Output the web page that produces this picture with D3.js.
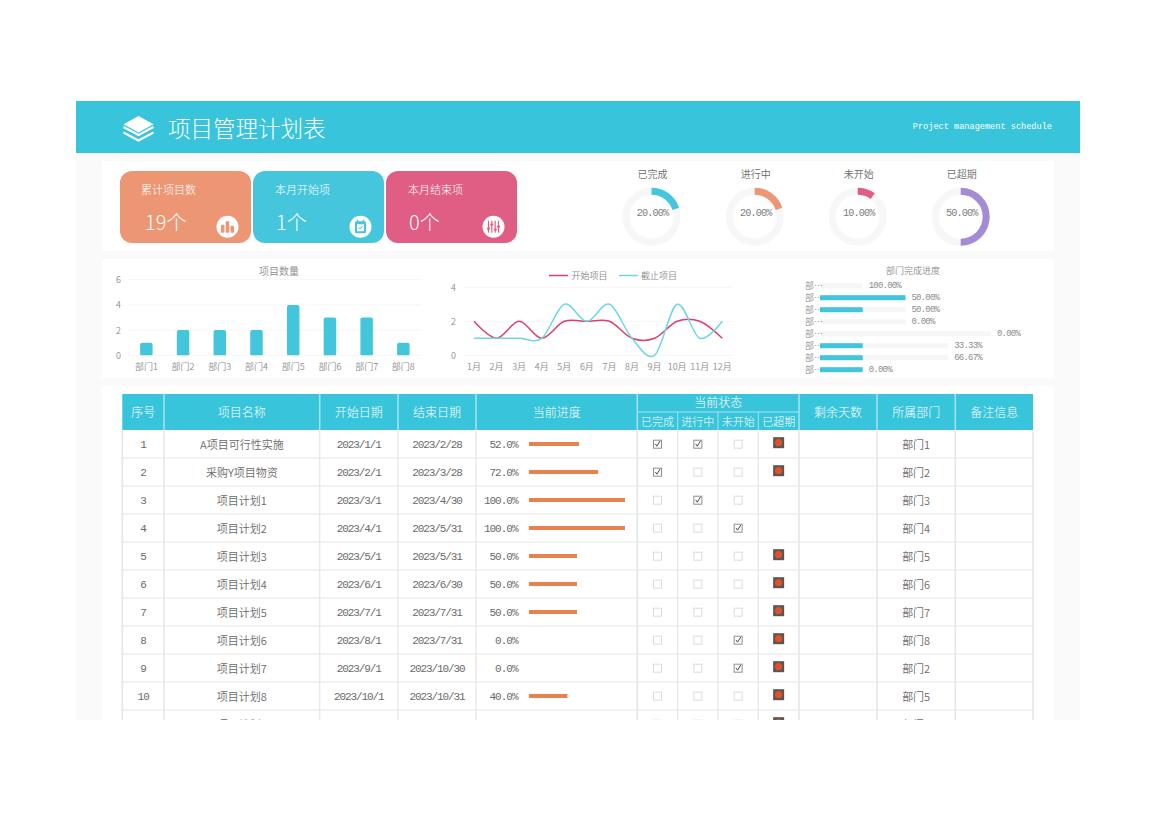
<!DOCTYPE html>
<html><head><meta charset="utf-8">
<script src="https://cdn.jsdelivr.net/npm/d3@7"></script>
<style>
html,body{margin:0;padding:0;background:#fff}
svg{display:block}
</style></head><body><svg id="c" width="1170" height="827"></svg>
<script>
const chartTitle="项目管理计划表", chartSubtitle="Project management schedule";
const cardTitles=["累计项目数","本月开始项","本月结束项"];
const cardValues=["19个","1个","0个"];
const cardColors=["#ec9673","#45c6dd","#e05e83"];
const donutNames=["已完成","进行中","未开始","已超期"];
const donutValues=[0.2,0.2,0.1,0.5];
const donutColors=["#45c6dd","#ec9673","#e05e83","#a48bd6"];
const departments=["部门1","部门2","部门3","部门4","部门5","部门6","部门7","部门8"];
const deptCounts=[1,2,2,2,4,3,3,1];
const deptDone=[0,2,1,0,0,1,1,1];
const deptLabels=["100.00%","50.00%","50.00%","0.00%","0.00%","33.33%","66.67%","0.00%"];
const months=["1月","2月","3月","4月","5月","6月","7月","8月","9月","10月","11月","12月"];
const startSeries=[2,1,2,1,2,2,2,1,1,2,2,1];
const endSeries=[1,1,1,1,3,2,3,1,0,3,1,2];
const headers=["序号","项目名称","开始日期","结束日期","当前进度"];
const headers2=["剩余天数","所属部门","备注信息"];
const statusHeaders=["已完成","进行中","未开始","已超期"];
const ids=[1,2,3,4,5,6,7,8,9,10,11];
const names=["A项目可行性实施","采购Y项目物资","项目计划1","项目计划2","项目计划3","项目计划4","项目计划5","项目计划6","项目计划7","项目计划8","项目计划9"];
const starts=["2023/1/1","2023/2/1","2023/3/1","2023/4/1","2023/5/1","2023/6/1","2023/7/1","2023/8/1","2023/9/1","2023/10/1","2023/11/1"];
const ends=["2023/2/28","2023/3/28","2023/4/30","2023/5/31","2023/5/31","2023/6/30","2023/7/31","2023/7/31","2023/10/30","2023/10/31","2023/11/30"];
const progress=[0.52,0.72,1,1,0.5,0.5,0.5,0,0,0.4,0.5];
const doneFlags=[1,1,0,0,0,0,0,0,0,0,0];
const doingFlags=[1,0,1,0,0,0,0,0,0,0,0];
const todoFlags=[0,0,0,1,0,0,0,1,1,0,0];
const lateFlags=[1,1,0,0,1,1,1,1,1,1,1];
const rowDepts=["部门1","部门2","部门3","部门4","部门5","部门6","部门7","部门8","部门2","部门5","部门3"];

const svg=d3.select("#c");
const TEAL="#38c4da",TXT="#6a6a6a",AXT="#8c8c8c",GRID="#f5f5f5";
const MONO='"Liberation Mono","Noto Sans CJK SC",monospace', SANS='"Noto Sans CJK SC","Noto Sans",sans-serif';
svg.append("defs").append("clipPath").attr("id","pageClip").append("rect").attr("x",76).attr("y",101).attr("width",1004).attr("height",619);
const root=svg.append("g").attr("clip-path","url(#pageClip)");
function T(g,x,y,s,o={}){
  const off=o.family===MONO?0.3:-0.8;
  return g.append("text").attr("x",x).attr("y",y+off).text(s)
   .attr("font-size",o.size||11).attr("fill",o.fill||TXT)
   .attr("text-anchor",o.anchor||"middle").attr("dominant-baseline","central")
   .attr("font-weight",o.weight||(o.family===MONO?400:350))
   .style("font-family",o.family||SANS).style("letter-spacing",o.ls||null);
}
function R(g,x,y,w,h,fill,r){return g.append("rect").attr("x",x).attr("y",y).attr("width",w).attr("height",h).attr("fill",fill).attr("rx",r||0).attr("ry",r||0);}
const num=(size,ls)=>({size,family:MONO,ls:ls+"px"});

// page
R(root,76,101,1004,619,"#fafafa");
R(root,76,101,1004,52,TEAL);
[[161,90],[259,119],[386,340]].forEach(p=>R(root,102,p[0],952,p[1],"#fff"));

// logo
const logo=root.append("g").attr("transform","translate(138.5,116)");
logo.append("path").attr("d","M0 0L15 8.2L0 16.4L-15 8.2Z").attr("fill","#fff");
[[13],[18.5]].forEach(d=>logo.append("path").attr("d",`M-15 ${d[0]-2}L0 ${d[0]+6}L15 ${d[0]-2}`).attr("fill","none").attr("stroke","#fff").attr("stroke-width",2));
T(root,168,127.5,chartTitle,{size:22.5,fill:"#fff",anchor:"start",weight:300});
T(root,1052,127,chartSubtitle,{size:8.6,fill:"#fff",anchor:"end",family:MONO});

// cards
const cardTitleDx=[21,22,22], cardValueDx=[25,23,23];
cardTitles.forEach((t,i)=>{
  const x=120+133*i, g=root.append("g");
  R(g,x,171,131,72,cardColors[i],12);
  T(g,x+cardTitleDx[i],189.8,t,{size:11,fill:"#fff",anchor:"start",weight:300});
  T(g,x+cardValueDx[i],222,cardValues[i],{size:20,fill:"#fff",anchor:"start",weight:300});
  const ic=g.append("g").attr("transform",`translate(${x+107.5},226.7)`);
  ic.append("circle").attr("r",11).attr("fill","#fff");
  const c=cardColors[i];
  if(i===0){ [[-6.5,-2,3.5,7],[-1.8,-5.5,3.5,10.5],[3,-1,3.5,6]].forEach(b=>R(ic,b[0],b[1],b[2],b[3]+1,c,.8)); }
  if(i===1){
    R(ic,-5.5,-5.5,11,12,c,1.5);
    R(ic,-3.5,-2.5,7,7,"#fff",.5);
    [-3,3].forEach(dx=>R(ic,dx-.7,-7,1.4,3,c));
    ic.append("path").attr("d","M-1.8 0.8L-.4 2.4L2 -.6").attr("fill","none").attr("stroke",c).attr("stroke-width",1);
  }
  if(i===2){
    [-5,-1.7,1.7,5].forEach((dx,k)=>{
      R(ic,dx-.6,-6,1.2,12,c);
      R(ic,dx-1.5,[1,-3,2,-1][k],3,1.8,c);
    });
  }
});

// donuts
const donutCx=[651.5,754.7,857.7,960.7], donutCy=216.7;
const arcBg=d3.arc().innerRadius(22).outerRadius(29).startAngle(0).endAngle(2*Math.PI);
const angle=d3.scaleLinear().domain([0,1]).range([0,2*Math.PI]);
donutNames.forEach((n,i)=>{
  const g=root.append("g").attr("transform",`translate(${donutCx[i]},${donutCy})`);
  g.append("path").attr("d",arcBg()).attr("fill","#f7f7f7");
  g.append("path").attr("d",d3.arc().innerRadius(22).outerRadius(29).startAngle(0).endAngle(angle(donutValues[i]))()).attr("fill",donutColors[i]);
  T(g,1,-42,n,{size:10});
  T(g,1,-3.4,d3.format(".2%")(donutValues[i]),{...num(10.2,-0.9),fill:"#7c7c7c"});
});

// bar chart
const bx=d3.scaleBand().domain(departments).range([128,421.7]).paddingInner(0.66).paddingOuter(0.33);
const by=d3.scaleLinear().domain([0,6]).range([355.3,279.7]);
const barG=root.append("g");
T(barG,279,271,"项目数量",{size:10,fill:AXT});
by.ticks(3).forEach(v=>{
  barG.append("line").attr("x1",128).attr("x2",421.7).attr("y1",by(v)).attr("y2",by(v)).attr("stroke",GRID);
  T(barG,118.5,by(v)+.8,v,{size:9,fill:AXT});
});
const round=2;
barG.selectAll("path.bar").data(departments).join("path").attr("class","bar").attr("fill","#43c6dc")
 .attr("d",(d,i)=>{const x=bx(d),w=bx.bandwidth(),y=by(deptCounts[i]),b=by(0);
   return `M${x} ${b-1}V${y+round}Q${x} ${y} ${x+round} ${y}H${x+w-round}Q${x+w} ${y} ${x+w} ${y+round}V${b-1}Q${x+w} ${b} ${x+w-1} ${b}H${x+1}Q${x} ${b} ${x} ${b-1}Z`;});
departments.forEach(d=>T(barG,bx(d)+bx.bandwidth()/2,367.3,d,{size:9,fill:AXT}));

// line chart
const lx=d3.scalePoint().domain(months).range([474,722.3]);
const ly=d3.scaleLinear().domain([0,4]).range([355.3,287.3]);
const lineG=root.append("g");
ly.ticks(2).forEach(v=>{
  lineG.append("line").attr("x1",462.7).attr("x2",733).attr("y1",ly(v)).attr("y2",ly(v)).attr("stroke",GRID);
  T(lineG,453.5,ly(v)+.8,v,{size:9,fill:AXT});
});
months.forEach(m=>T(lineG,lx(m),367.3,m,{size:9,fill:AXT}));
const line=d3.line().x((d,i)=>lx(months[i])).y(d=>ly(d)).curve(d3.curveCardinal.tension(0));
lineG.append("path").attr("d",line(startSeries)).attr("fill","none").attr("stroke","#df3d6b").attr("stroke-width",1.5);
lineG.append("path").attr("d",line(endSeries)).attr("fill","none").attr("stroke","#6fd5e6").attr("stroke-width",1.5);
[["开始项目","#df3d6b",549,571.5],["截止项目","#6fd5e6",619,641]].forEach(l=>{
  lineG.append("line").attr("x1",l[2]).attr("x2",l[2]+19).attr("y1",275.5).attr("y2",275.5).attr("stroke",l[1]).attr("stroke-width",1.5);
  T(lineG,l[3],276.2,l[0],{size:9,fill:AXT,anchor:"start"});
});

// horizontal progress
const hx=d3.scaleLinear().domain([0,4]).range([820,991]);
const hy=d3.scaleBand().domain(departments).range([279.7,375.7]);
const hG=root.append("g");
T(hG,913,271,"部门完成进度",{size:9,fill:AXT});
departments.forEach((d,i)=>{
  const y=hy(d)+hy.bandwidth()/2;
  R(hG,hx(0),y-2.5,hx(deptCounts[i])-hx(0),5,"#f6f6f6");
  if(deptDone[i]>0) R(hG,hx(0),y-2.5,hx(deptDone[i])-hx(0),5,"#43c6dc");
  T(hG,805,y+.5,"部⋯",{size:9,fill:AXT,anchor:"start"});
  T(hG,hx(deptCounts[i])+6,y,deptLabels[i],{...num(9,-0.8),fill:AXT,anchor:"start"});
});

// table
const edges=[122.3,164,319.7,398,476,637.3,677.7,718,758.3,799,877,955.3,1033];
const rowY=d3.scaleLinear().domain([0,11]).range([430,738]);
const tb=root.append("g");
R(tb,edges[0],394,edges[12]-edges[0],36,TEAL);
const headBorder="#a8e4ef";
const headCols=[...headers.map((h,i)=>[h,i]),...headers2.map((h,i)=>[h,9+i])];
headCols.forEach(([h,i])=>T(tb,(edges[i]+edges[i+1])/2,412,h,{size:12,fill:"#fff",weight:300}));
T(tb,(edges[5]+edges[9])/2,402.5,"当前状态",{size:12,fill:"#fff",weight:300});
statusHeaders.forEach((h,i)=>T(tb,(edges[5+i]+edges[6+i])/2,421.5,h,{size:11,fill:"#fff",weight:300}));
edges.slice(1,12).forEach((x,i)=>{
  const k=i+1;
  const inner=k>=6&&k<=8;
  tb.append("line").attr("x1",x).attr("x2",x).attr("y1",inner?412:394).attr("y2",430).attr("stroke",headBorder).attr("stroke-width",inner?1:1.5);
});
tb.append("line").attr("x1",edges[5]).attr("x2",edges[9]).attr("y1",412).attr("y2",412).attr("stroke",headBorder).attr("stroke-width",1);
// grid
const lineColor="#e6e6e6";
ids.forEach((_,r)=>tb.append("line").attr("x1",edges[0]).attr("x2",edges[12]).attr("y1",rowY(r+1)).attr("y2",rowY(r+1)).attr("stroke",lineColor).attr("stroke-width",1.2));
edges.forEach((x,k)=>tb.append("line").attr("x1",x).attr("x2",x).attr("y1",430).attr("y2",738).attr("stroke",lineColor).attr("stroke-width",(k===5||k===9||k===10||k===11||k===12||k===1||k===0)?1.6:1.2));
const px=d3.scaleLinear().domain([0,1]).range([529,625]);
function checkbox(g,cx,cy,on){
  R(g,cx-4,cy-4,8,8,"#fff").attr("stroke",on?"#8f8f8f":"#dcdcdc").attr("stroke-width",1);
  if(on) g.append("path").attr("d",`M${cx-2.2} ${cy-.3}L${cx-.6} ${cy+2}L${cx+2.6} ${cy-3.2}`).attr("fill","none").attr("stroke","#4a4a4a").attr("stroke-width",1);
}
ids.forEach((id,r)=>{
  const yc=(rowY(r)+rowY(r+1))/2+.2, mid=i=>(edges[i]+edges[i+1])/2;
  T(tb,mid(0),yc,id,num(11,-1));
  T(tb,mid(1),yc+.5,names[r]);
  T(tb,mid(2),yc,starts[r],num(11,-1.1));
  T(tb,mid(3),yc,ends[r],num(11,-1.1));
  T(tb,517.5,yc,d3.format(".1%")(progress[r]),{...num(11,-1),anchor:"end"});
  if(progress[r]>0) R(tb,px(0),yc-2.2,px(progress[r])-px(0),4,"#e8804f");
  [doneFlags,doingFlags,todoFlags].forEach((f,k)=>checkbox(tb,mid(5+k),yc,f[r]));
  if(lateFlags[r]){
    const cx=mid(8),cy=yc-1.5;
    R(tb,cx-5.5,cy-5.5,11,11,"#5a5654");
    tb.append("circle").attr("cx",cx).attr("cy",cy).attr("r",3.6).attr("fill","#e0512a");
  }
  T(tb,mid(10),yc+.5,rowDepts[r]);
});
</script></body></html>
